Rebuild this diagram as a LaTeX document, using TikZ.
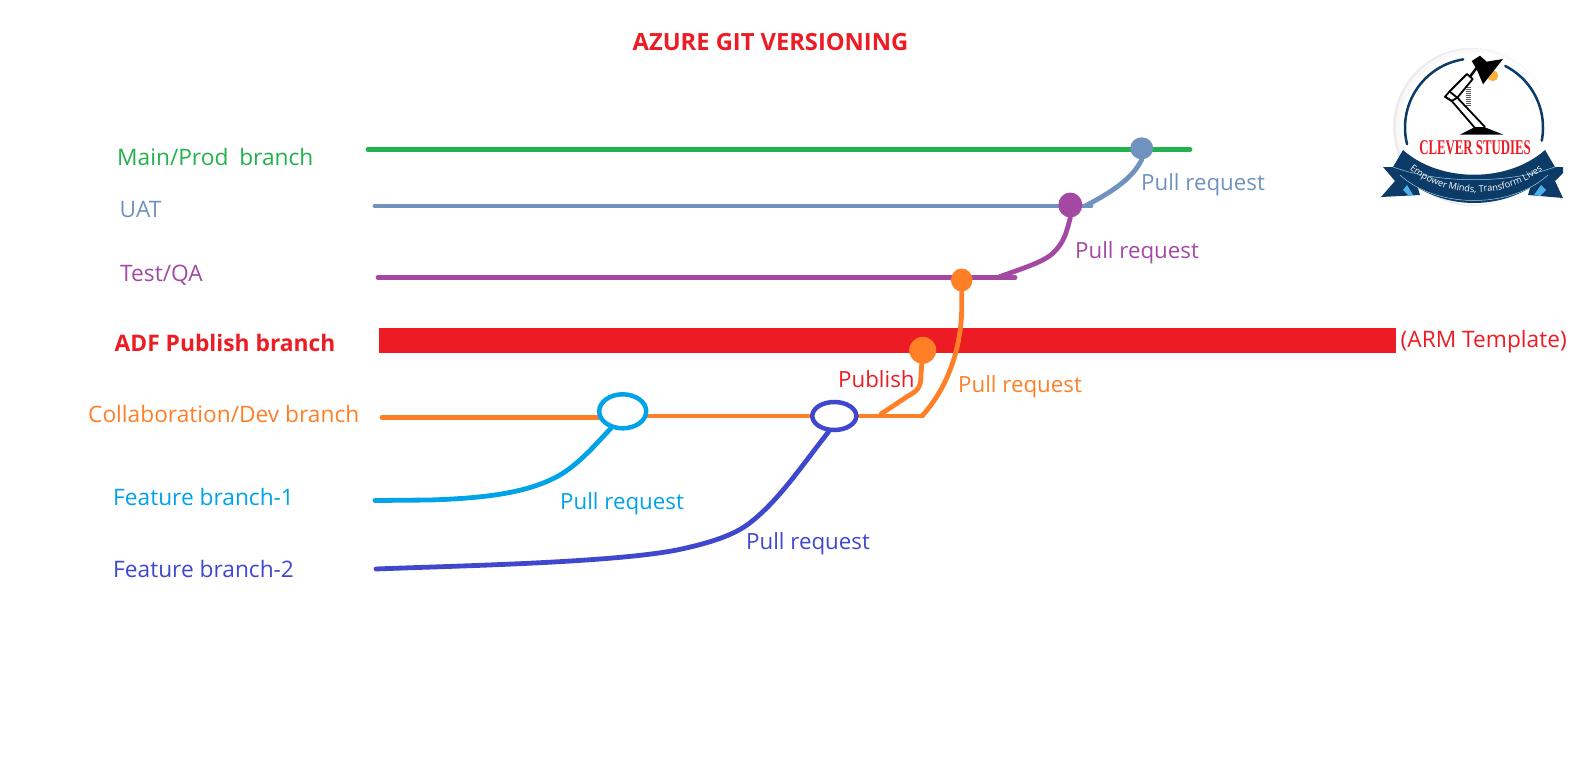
\documentclass[tikz,border=0pt]{standalone}
\usepackage{fontspec}
\usepackage{graphicx}
\setmainfont{Open Sans}
\newfontfamily\logofont{Liberation Serif}
\usetikzlibrary{shapes.geometric,backgrounds,decorations.text}
\definecolor{cgreen}{HTML}{22B14C}
\definecolor{csteel}{HTML}{7092BE}
\definecolor{cpurple}{HTML}{A349A4}
\definecolor{corange}{HTML}{FF7F27}
\definecolor{cred}{HTML}{ED1C24}
\definecolor{ccyan}{HTML}{00A2E8}
\definecolor{cnavy}{HTML}{3F48CC}
\definecolor{cribbon}{HTML}{0B3B66}
\definecolor{cfold}{HTML}{4FB0E8}
\definecolor{cbulb}{HTML}{F9B233}
\tikzset{
  txt/.style={anchor=base west,inner sep=0pt,font=\fontsize{22.7}{26}\selectfont},
  pulltxt/.style={anchor=base west,inner sep=0pt,font=\fontsize{22.3}{26}\selectfont},
  boldtxt/.style={anchor=base west,inner sep=0pt,font=\fontsize{22.8}{26}\selectfont\bfseries},
  branch/.style={line width=4.8pt,line cap=round},
  dot/.style={ellipse,inner sep=0pt,fill=#1,draw=none},
  ring/.style={ellipse,inner sep=0pt,fill=white,draw=#1,line width=4.5pt}
}
\begin{document}
\begin{tikzpicture}[x=1pt,y=-1pt]
\useasboundingbox (0,0) rectangle (1583,774);
% texts
\node[boldtxt,text=cred,font=\fontsize{23.7}{26}\selectfont\bfseries] (title) at (632.5,50.5) {AZURE GIT VERSIONING};
\node[txt,text=cgreen] (lmain) at (117,165) {Main/Prod\hspace{5pt} branch};
\node[txt,text=csteel] (luat) at (119.5,217) {UAT};
\node[txt,text=cpurple] (lqa) at (120,281) {Test/QA};
\node[boldtxt,text=cred] (ladf) at (114.5,351) {ADF Publish branch};
\node[txt,text=corange] (lcol) at (88,422) {Collaboration/Dev branch};
\node[txt,text=ccyan] (lf1) at (113,505) {Feature branch-1};
\node[txt,text=cnavy] (lf2) at (113,577) {Feature branch-2};
\node[pulltxt,text=csteel] (p1) at (1141,190) {Pull request};
\node[pulltxt,text=cpurple] (p2) at (1075,258) {Pull request};
\node[pulltxt,text=corange] (p3) at (958,392) {Pull request};
\node[pulltxt,text=cred] (pub) at (838,387) {Publish};
\node[pulltxt,text=ccyan] (p4) at (560,509) {Pull request};
\node[pulltxt,text=cnavy] (p5) at (746,549) {Pull request};
\node[txt,text=cred] (arm) at (1400.5,347) {(ARM Template)};
% line ends
\coordinate (mainS) at (368,149.5);
\coordinate (mainE) at (1190,149.5);
\coordinate (uatS) at (375,206);
\coordinate (uatJ) at (1086,205.5);
\coordinate (uatE) at (1091,206);
\coordinate (qaS) at (378,277.5);
\coordinate (qaE) at (1015,277.5);
\coordinate (devS) at (382,417.3);
\coordinate (devE) at (922,416);
\coordinate (f1S) at (375,500.5);
\coordinate (f2S) at (376,569);
% dots
\node[dot=csteel,minimum width=23pt,minimum height=22pt] (dsteel) at (1141.7,148.3) {};
\node[dot=cpurple,minimum width=24pt,minimum height=25pt] (dpurple) at (1070.3,205) {};
\node[dot=corange,minimum width=21.5pt,minimum height=23pt] (dorange) at (961.7,280) {};
\node[dot=corange,minimum width=27pt,minimum height=27pt] (dpub) at (922.7,350.3) {};
\node[ring=ccyan,minimum width=47pt,minimum height=34pt] (rcyan) at (622.7,411.3) {};
\node[ring=cnavy,minimum width=44pt,minimum height=28pt] (rnavy) at (834.3,416) {};
\begin{pgfonlayer}{background}
\node[fill=cred,inner sep=0pt,minimum width=1017pt,minimum height=24.7pt] (bar) at (887.5,340.3) {};
\draw[branch,cgreen] (mainS) -- (mainE);
\draw[branch,csteel] (uatS) -- (uatE);
\draw[branch,cpurple] (qaS) -- (qaE);
\draw[branch,corange] (devS) -- (devS -| rcyan);
\draw[branch,corange] (devE -| rcyan) -- (devE);
\draw[branch,csteel] (dsteel.south) .. controls (1134,176) and (1116,190) .. (uatJ);
\draw[branch,cpurple] (dpurple.south) .. controls (1067,230) and (1065,240) .. (1056,250) .. controls (1048,260) and (1030,266) .. (1000,276.5);
\draw[branch,corange] (dorange) -- (961.7,310) .. controls (961,345) and (950,385) .. (devE);
\draw[branch,corange] (dpub) -- (921,375) .. controls (921,388) and (917,391) .. (908,396) -- (881,414);
\draw[branch,ccyan] (f1S) -- (430,500) .. controls (490,498) and (530,492) .. (560,475) .. controls (580,463) and (597,443) .. (rcyan.235);
\draw[branch,cnavy] (f2S) .. controls (450,566) and (610,563) .. (677,550) .. controls (705,544) and (730,537) .. (747,525) .. controls (777,503) and (800,468) .. (rnavy.250);
\end{pgfonlayer}
% logo
\fill[gray!14] (1472,127) circle[radius=79];
\fill[gray!5] (1474,127) circle[radius=78];
\fill[white] (1476,128) circle[radius=76];
\draw[cribbon,line width=2.5pt,line cap=round] plot[domain=166:261,samples=30] ({1474+69*cos(\x)},{127.5+69*sin(\x)});
\draw[cribbon,line width=2.5pt,line cap=round] plot[domain=-63:11,samples=30] ({1474+69*cos(\x)},{127.5+69*sin(\x)});
% lamp
\fill[cbulb] (1492.7,75.7) circle[radius=5.5];
\fill[black] (1460,134.5) -- (1503,134.5) -- (1484,127) -- (1475,127) -- cycle;
\draw[gray!70!black,line width=5pt,dash pattern=on 1pt off 1pt] (1468,86.7) -- (1468,105);
\draw[black,line width=1.8pt,line join=round] (1445,96.7) -- (1449.5,91.5) -- (1467,74) -- (1472.7,79) -- (1457.3,97.7) -- (1451.7,101) -- cycle;
\draw[black,line width=1.8pt] (1449.5,91.5) -- (1457.3,97.7);
\draw[black,line width=1.8pt] (1445,96.7) -- (1451.7,101) -- (1475,128) (1457.3,97.7) -- (1485,127);
\draw[black,line width=2.5pt] (1470,76.7) -- (1476.7,67.7);
\fill[black] (1471.7,61) -- (1480,55.7) -- (1486.7,61.7) -- (1503,59) -- (1483,84.3) -- (1477,70) -- cycle;
\node[anchor=base,inner sep=0pt,text=cred] (logotext) at (1475,154) {\scalebox{0.61}[1]{\logofont\bfseries\fontsize{21}{24}\selectfont CLEVER STUDIES}};
% ribbon
\fill[cribbon] (1383,167) -- (1404,167) -- (1415,178) -- (1420,195) -- (1381,197) -- (1395,181) -- cycle;
\fill[cribbon] (1563,167) -- (1544,167) -- (1533,178) -- (1528,195) -- (1563,198) -- (1555,181) -- (1563,173) -- cycle;
\fill[cfold] (1407,185) -- (1413,195) -- (1409,196) -- (1403,190) -- cycle;
\fill[cfold] (1541,185) -- (1534,195) -- (1540,196) -- (1546,190) -- cycle;
\fill[cribbon] (1403,150) .. controls (1440,183) and (1508,183) .. (1545,150) -- (1555,167) .. controls (1513,215) and (1435,215) .. (1393,167) -- cycle;
\draw[cfold!60!white,line width=.5pt] (1393,167) .. controls (1440,184) and (1508,184) .. (1555,167);
\draw[cfold!60!white,line width=.5pt] (1400,175) .. controls (1437,209) and (1511,209) .. (1548,175);
\path[decorate,decoration={text along path,text align=center,text={|\fontsize{9.2}{10}\selectfont\color{white}|Empower Minds, Transform Lives}}] (1405,166) .. controls (1445,201) and (1507,201) .. (1547,166);
\end{tikzpicture}
\end{document}
